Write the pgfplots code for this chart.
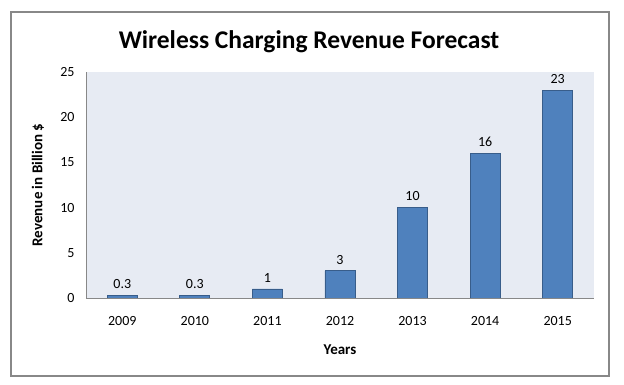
\documentclass[border=0pt]{standalone}
\usepackage{pgfplots}
\pgfplotsset{compat=1.18}
\usepackage{fontspec}
\setmainfont{Carlito}
\definecolor{barfill}{HTML}{4F81BD}
\definecolor{barline}{HTML}{385D8A}
\definecolor{plotbg}{HTML}{E7EBF3}
\definecolor{frame}{HTML}{888888}
\begin{document}
\begin{tikzpicture}
\path (-86pt,-87pt) rectangle (538pt,298pt);
\draw[frame, line width=1.2pt] (-75pt,-78pt) rectangle (523pt,286pt);
\begin{axis}[
  at={(0pt,0pt)}, anchor=south west,
  scale only axis, width=508pt, height=226pt,
  xmin=-0.5, xmax=6.5, ymin=0, ymax=25,
  ytick={0,5,10,15,20,25},
  xtick=data,
  xticklabels={2009,2010,2011,2012,2013,2014,2015},
  major tick length=0pt,
  axis x line*=bottom, axis y line*=left,
  axis line style={-, draw=frame, line width=0.8pt},
  axis background/.style={fill=plotbg},
  tick label style={font=\fontsize{14}{16}\selectfont},
  /pgf/number format/assume math mode=true,
  xticklabel style={yshift=-15pt},
  yticklabel style={xshift=-8pt},
  xlabel={\textbf{Years}},
  ylabel={\textbf{Revenue in Billion \$}},
  label style={font=\fontsize{15}{17}\selectfont},
  xlabel style={at={(axis description cs:0.5,-0.230)}, anchor=center},
  ylabel style={at={(axis description cs:-0.0945,0.5)}, anchor=center},
  title={\textbf{Wireless Charging Revenue Forecast}},
  title style={font=\fontsize{25.5}{30}\selectfont, at={(axis description cs:0.439,1.108)}, anchor=center},
  nodes near coords,
  every node near coord/.append style={font=\fontsize{14}{16}\selectfont, yshift=3pt},
  point meta=explicit symbolic,
]
\addplot[ybar, bar width=30pt, fill=barfill, draw=barline, line width=0.8pt]
  coordinates {(0,0.3)[0.3] (1,0.3)[0.3] (2,1)[1] (3,3)[3] (4,10)[10] (5,16)[16] (6,23)[23]};
\end{axis}
\end{tikzpicture}
\end{document}
